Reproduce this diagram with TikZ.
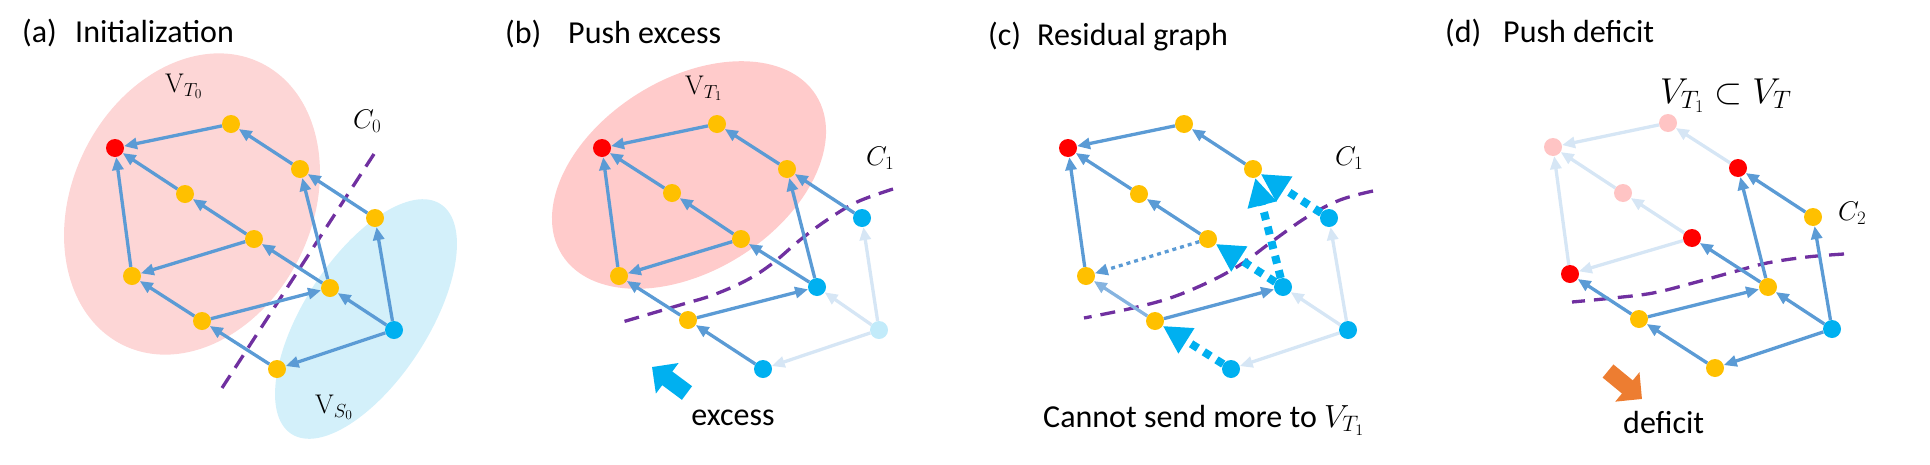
\RequirePackage{fix-cm}
\documentclass[tikz,border=0pt]{standalone}
\usepackage[no-math]{fontspec}
\setmainfont{Carlito}
\usetikzlibrary{arrows.meta}
\definecolor{edgeblue}{HTML}{5B9BD5}
\definecolor{fadeblue}{HTML}{D6E6F5}
\definecolor{lightedge}{HTML}{86B4E0}
\definecolor{nyellow}{HTML}{FFC000}
\definecolor{nred}{HTML}{FF0000}
\definecolor{ncyan}{HTML}{00B0F0}
\definecolor{nfadecyan}{HTML}{C2EBFA}
\definecolor{nfadepink}{HTML}{FFC4C4}
\definecolor{pinkA}{HTML}{FDD6D6}
\definecolor{pinkB}{HTML}{FFCBCB}
\definecolor{skyA}{HTML}{D3F0FA}
\definecolor{cutpurple}{HTML}{7030A0}
\definecolor{fatorange}{HTML}{ED7D31}
\tikzset{
  vtx/.style={circle, minimum size=18pt, inner sep=0pt, draw=none},
  yel/.style={vtx, fill=nyellow},
  red/.style={vtx, fill=nred},
  cya/.style={vtx, fill=ncyan},
  fcya/.style={vtx, fill=nfadecyan},
  fpink/.style={vtx, fill=nfadepink},
  edge/.style={draw=edgeblue, line width=3.3pt, -{Triangle[length=13pt,width=11pt]}},
  fedge/.style={edge, draw=fadeblue},
  ledge/.style={edge, draw=lightedge},
  dotedge/.style={edge, dash pattern=on 4pt off 4pt},
  push/.style={draw=ncyan, line width=8pt, dash pattern=on 8pt off 7pt, -{Triangle[length=28pt,width=28pt]}},
  cut/.style={draw=cutpurple, line width=3.3pt, dash pattern=on 15pt off 9pt},
  fat/.style={line width=17pt, -{Triangle[length=19pt,width=37pt]}},
  ttl/.style={anchor=base west, inner sep=0pt, font=\fontsize{32}{38}\selectfont},
  mlbl/.style={anchor=base west, inner sep=0pt, font=\fontsize{27}{32}\selectfont},
}
\begin{document}
\begin{tikzpicture}[x=1pt,y=-1pt]
\useasboundingbox (0,0) rectangle (1930,464);
% ---------------- (a) ----------------
\fill[pinkA, rotate around={64:(192,204)}] (192,204) ellipse [x radius=157, y radius=120];
\fill[skyA, rotate around={57:(366,319)}] (366,319) ellipse [x radius=137, y radius=62];
\coordinate (acut1) at (374,154);
\coordinate (acut2) at (222,388);
\draw[cut] (acut1) -- (acut2);
\node[red] (aR) at (115,148) {};
\node[yel] (aA) at (231,124) {};
\node[yel] (aB) at (300,169) {};
\node[yel] (aC) at (185,194) {};
\node[yel] (aD) at (375,218) {};
\node[yel] (aE) at (254,239) {};
\node[yel] (aF) at (132,276) {};
\node[yel] (aG) at (330,288) {};
\node[yel] (aH) at (202,321) {};
\node[cya] (aS) at (394,330) {};
\node[yel] (aI) at (277,369) {};
\draw[edge] (aA) -- (aR);
\draw[edge] (aB) -- (aA);
\draw[edge] (aC) -- (aR);
\draw[edge] (aF) -- (aR);
\draw[edge] (aE) -- (aC);
\draw[edge] (aE) -- (aF);
\draw[edge] (aD) -- (aB);
\draw[edge] (aG) -- (aB);
\draw[edge] (aG) -- (aE);
\draw[edge] (aH) -- (aF);
\draw[edge] (aH) -- (aG);
\draw[edge] (aS) -- (aG);
\draw[edge] (aS) -- (aD);
\draw[edge] (aS) -- (aI);
\draw[edge] (aI) -- (aH);
\node[ttl] (at1) at (22,42) {(a)};
\node[ttl] (at2) at (75,42) {Initialization};
\node[mlbl] (aVT) at (165,92) {$\mathrm{V}_{T_0}$};
\node[mlbl] (aC0) at (353,128) {$C_0$};
\node[mlbl] (aVS) at (315,413) {$\mathrm{V}_{S_0}$};
% ---------------- (b) ----------------
\fill[pinkB, rotate around={32:(689,175)}] (689,175) ellipse [x radius=150, y radius=96];
\draw[cut] plot[smooth, tension=0.6] coordinates {(893,189) (857,202) (827,220) (800,240) (773,263) (747,280) (713,295) (680,305) (619,323)};
\node[red] (bR) at (602,148) {};
\node[yel] (bA) at (717,124) {};
\node[yel] (bB) at (787,169) {};
\node[yel] (bC) at (672,193) {};
\node[cya] (bD) at (862,218) {};
\node[yel] (bE) at (741,239) {};
\node[yel] (bF) at (619,276) {};
\node[cya] (bG) at (817,287) {};
\node[yel] (bH) at (688,320) {};
\node[fcya] (bS) at (879,330) {};
\node[cya] (bI) at (763,369) {};
\draw[edge] (bA) -- (bR);
\draw[edge] (bB) -- (bA);
\draw[edge] (bC) -- (bR);
\draw[edge] (bF) -- (bR);
\draw[edge] (bE) -- (bC);
\draw[edge] (bE) -- (bF);
\draw[edge] (bD) -- (bB);
\draw[edge] (bG) -- (bB);
\draw[edge] (bG) -- (bE);
\draw[edge] (bH) -- (bF);
\draw[edge] (bH) -- (bG);
\draw[fedge] (bS) -- (bG);
\draw[fedge] (bS) -- (bD);
\draw[fedge] (bS) -- (bI);
\draw[edge] (bI) -- (bH);
\coordinate (bx1) at (687,393);
\coordinate (bx2) at (652,367);
\draw[fat, ncyan] (bx1) -- (bx2);
\node[ttl] (bt1) at (505,43) {(b)};
\node[ttl] (bt2) at (568,43) {Push excess};
\node[mlbl] (bVT) at (685,94) {$\mathrm{V}_{T_1}$};
\node[mlbl] (bC1) at (866,165) {$C_1$};
\node[ttl, anchor=base] (bex) at (733,425) {excess};
% ---------------- (c) ----------------
\draw[cut] plot[smooth, tension=0.6] coordinates {(1373,191) (1340,200) (1307,217) (1270,243) (1243,263) (1213,280) (1173,297) (1133,308) (1084,318)};
\node[red] (cR) at (1068,148) {};
\node[yel] (cA) at (1184,124) {};
\node[yel] (cB) at (1253,169) {};
\node[yel] (cC) at (1139,194) {};
\node[cya] (cD) at (1329,218) {};
\node[yel] (cE) at (1208,239) {};
\node[yel] (cF) at (1086,276) {};
\node[cya] (cG) at (1283,287) {};
\node[yel] (cH) at (1155,321) {};
\node[cya] (cS) at (1348,330) {};
\node[cya] (cI) at (1231,369) {};
\draw[edge] (cA) -- (cR);
\draw[edge] (cB) -- (cA);
\draw[edge] (cC) -- (cR);
\draw[edge] (cF) -- (cR);
\draw[edge] (cE) -- (cC);
\draw[dotedge] (cE) -- (cF);
\draw[ledge] (cH) -- (cF);
\draw[edge] (cH) -- (cG);
\draw[fedge] (cS) -- (cG);
\draw[fedge] (cS) -- (cD);
\draw[fedge] (cS) -- (cI);
\draw[push] (cG) -- (cB);
\draw[push] (cD) -- (cB);
\draw[push] (cG) -- (cE);
\draw[push] (cI) -- (cH);
\node[ttl] (ct1) at (988,45) {(c)};
\node[ttl] (ct2) at (1037,45) {Residual graph};
\node[mlbl] (cC1) at (1335,165) {$C_1$};
\node[ttl] (ctx) at (1043,427) {Cannot send more to $V_{T_1}$};
% ---------------- (d) ----------------
\draw[cut] plot[smooth, tension=0.6] coordinates {(1844,254) (1807,257) (1767,263) (1733,272) (1693,283) (1653,293) (1613,298) (1572,302)};
\node[fpink] (dR) at (1553,147) {};
\node[fpink] (dA) at (1668,123) {};
\node[red] (dB) at (1738,168) {};
\node[fpink] (dC) at (1623,193) {};
\node[yel] (dD) at (1813,217) {};
\node[red] (dE) at (1692,238) {};
\node[red] (dF) at (1570,274) {};
\node[yel] (dG) at (1768,287) {};
\node[yel] (dH) at (1639,319) {};
\node[cya] (dS) at (1832,329) {};
\node[yel] (dI) at (1715,368) {};
\draw[fedge] (dA) -- (dR);
\draw[fedge] (dB) -- (dA);
\draw[fedge] (dC) -- (dR);
\draw[fedge] (dF) -- (dR);
\draw[fedge] (dE) -- (dC);
\draw[fedge] (dE) -- (dF);
\draw[edge] (dD) -- (dB);
\draw[edge] (dG) -- (dB);
\draw[edge] (dG) -- (dE);
\draw[edge] (dH) -- (dF);
\draw[edge] (dH) -- (dG);
\draw[edge] (dS) -- (dG);
\draw[edge] (dS) -- (dD);
\draw[edge] (dS) -- (dI);
\draw[edge] (dI) -- (dH);
\coordinate (dx1) at (1608,371);
\coordinate (dx2) at (1642,399);
\draw[fat, fatorange] (dx1) -- (dx2);
\node[ttl] (dt1) at (1445,42) {(d)};
\node[ttl] (dt2) at (1503,42) {Push deficit};
\node[mlbl] (dC2) at (1838,220) {$C_2$};
\node[anchor=base west, inner sep=0pt, font=\fontsize{36}{42}\selectfont] (dVT) at (1660,103) {$V_{T_1}\subset V_T$};
\node[ttl] (ddf) at (1623,433) {deficit};
\end{tikzpicture}
\end{document}
